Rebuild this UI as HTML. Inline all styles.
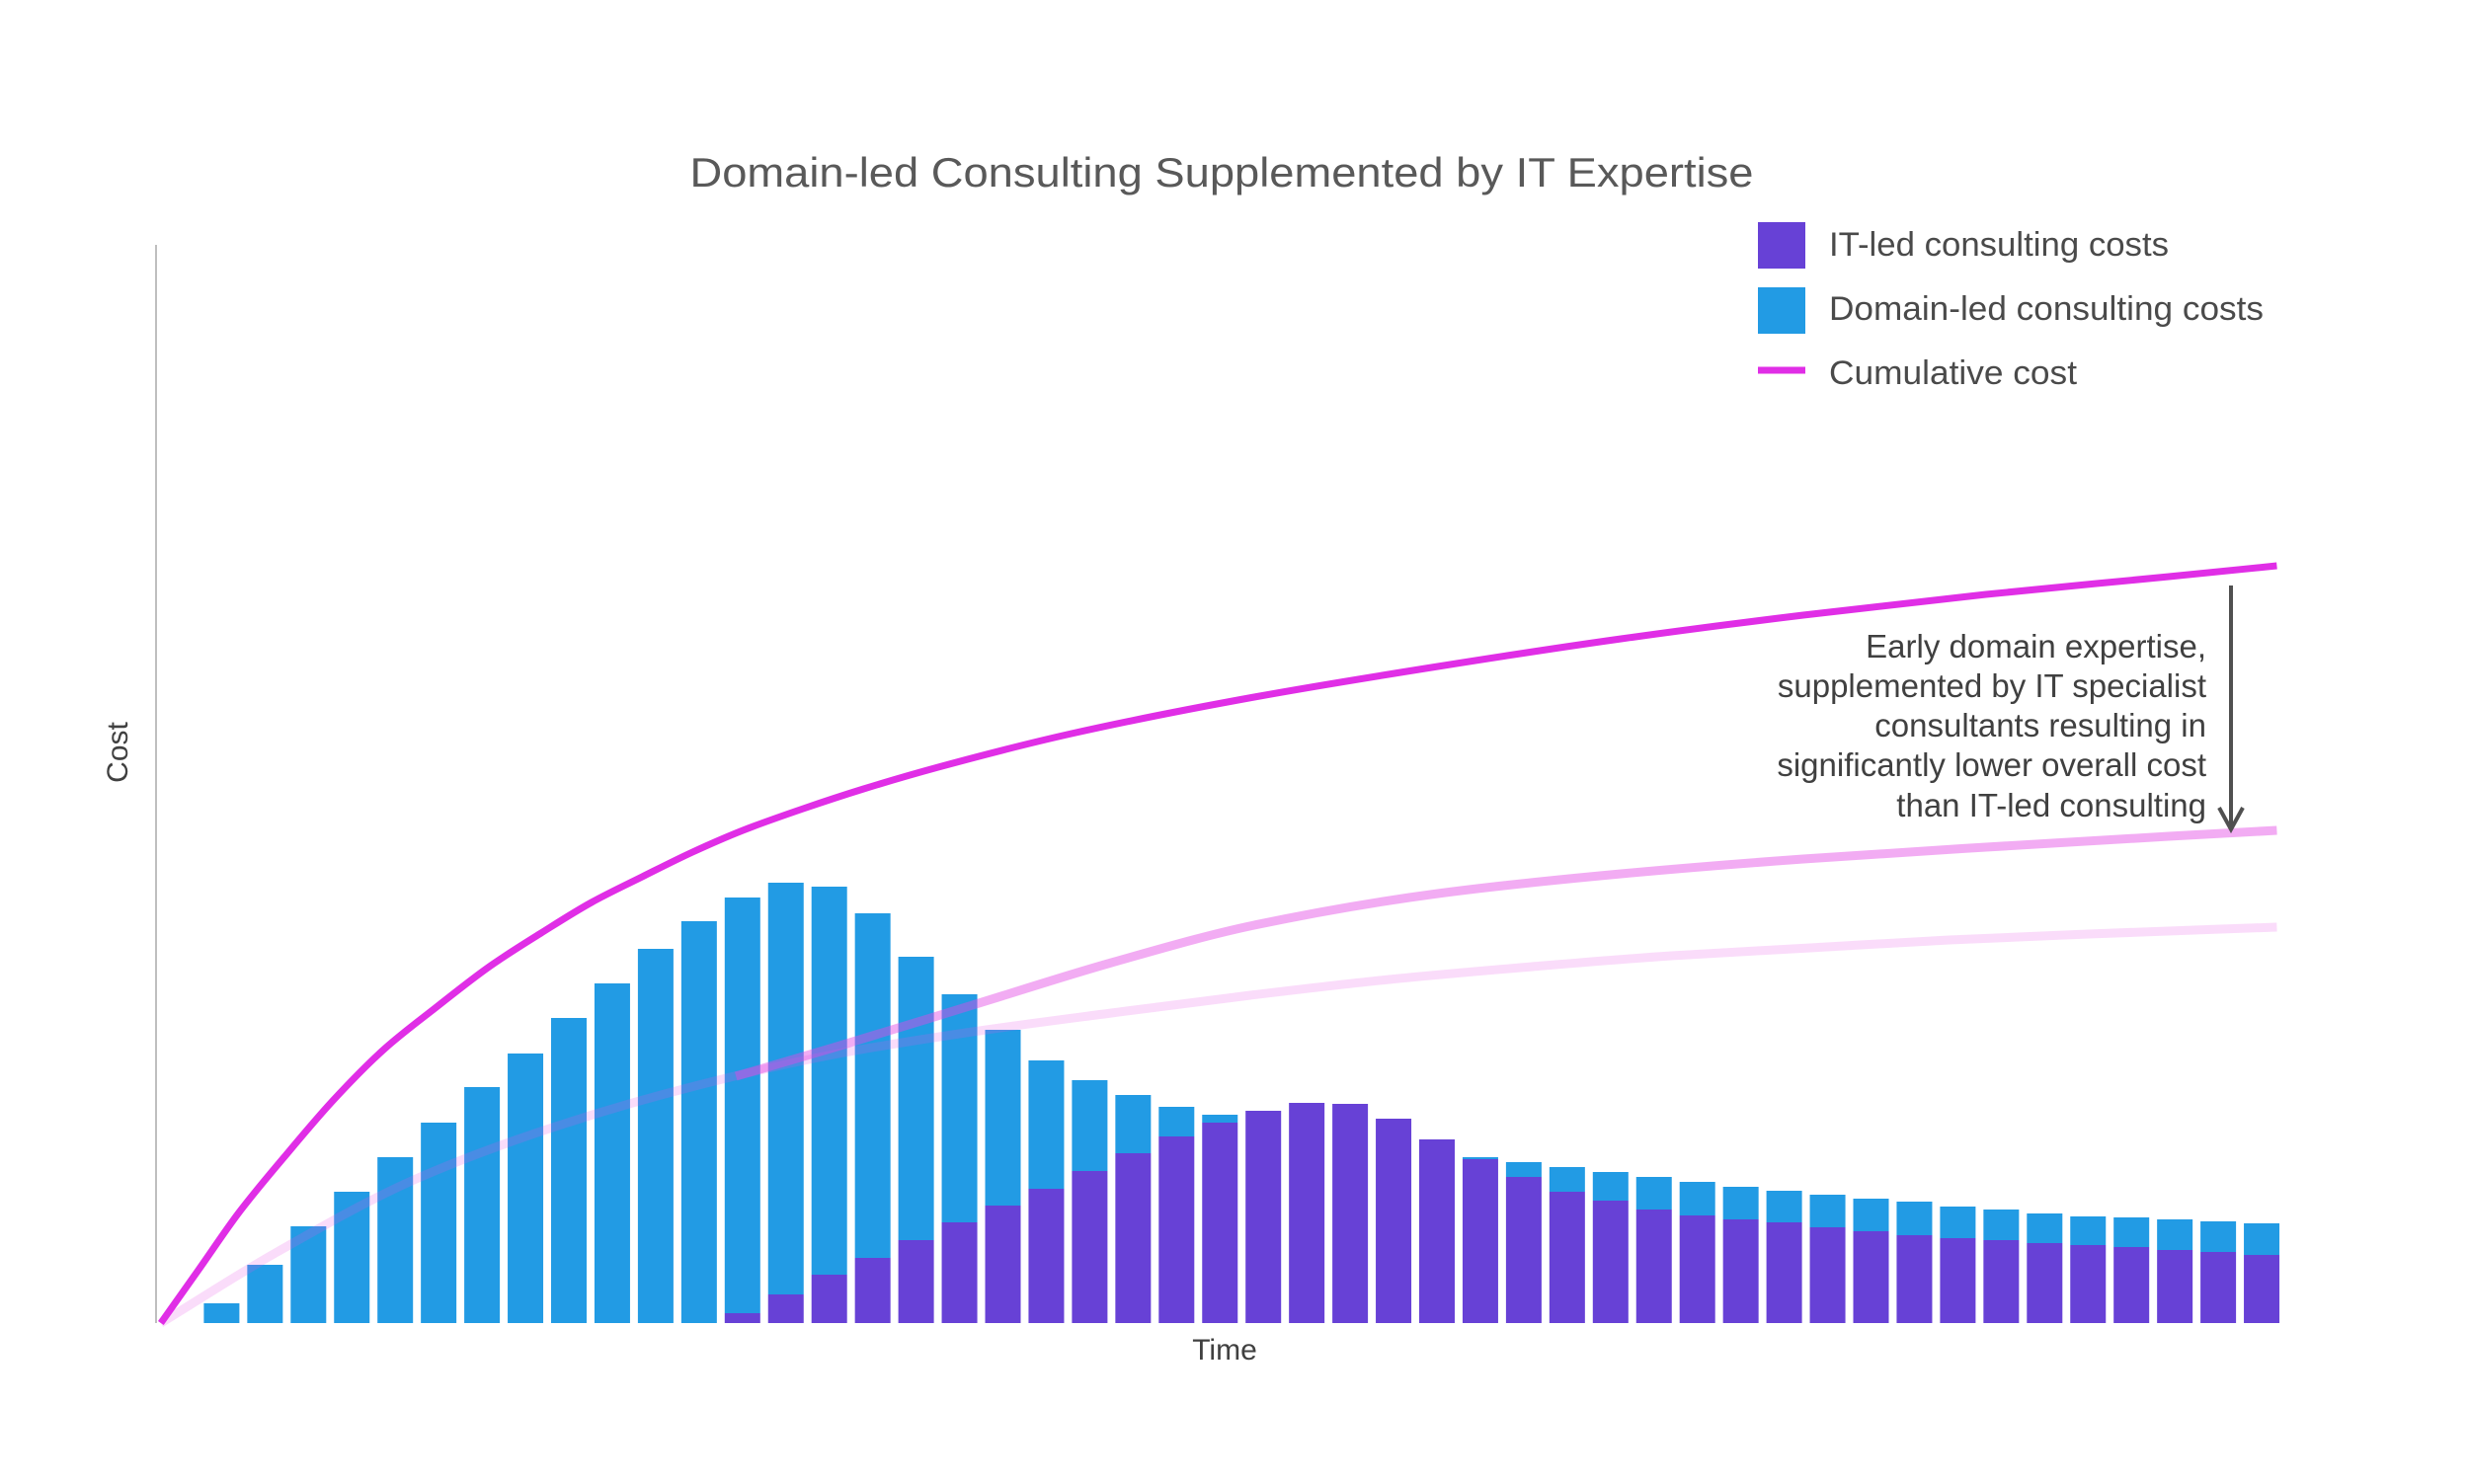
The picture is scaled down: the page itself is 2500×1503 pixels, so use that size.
<!DOCTYPE html>
<html><head><meta charset="utf-8"><style>
html,body{margin:0;padding:0;background:#fff;}
svg{display:block;font-family:"Liberation Sans",sans-serif;}
</style></head><body>
<svg id="chart" width="2500" height="1503" viewBox="0 0 2500 1503" xmlns="http://www.w3.org/2000/svg">
<rect width="2500" height="1503" fill="#fff"/>
<text x="1237" y="189" text-anchor="middle" font-size="42" fill="#595959" textLength="1077" lengthAdjust="spacingAndGlyphs">Domain-led Consulting Supplemented by IT Expertise</text>
<line x1="158" y1="248" x2="158" y2="1340" stroke="#bfbfbf" stroke-width="2"/>
<text x="0" y="0" transform="translate(129,762) rotate(-90)" text-anchor="middle" font-size="30" fill="#404040">Cost</text>
<text x="1240" y="1377" text-anchor="middle" font-size="30" fill="#404040">Time</text>
<g id="bars"></g>
<g id="lines"></g>
<g>
<rect x="1780" y="225" width="48" height="47" fill="#6741D6"/>
<text x="1852" y="259" font-size="34" fill="#4a4a4a" textLength="344" lengthAdjust="spacingAndGlyphs">IT-led consulting costs</text>
<rect x="1780" y="291" width="48" height="47" fill="#229BE4"/>
<text x="1852" y="324" font-size="34" fill="#4a4a4a" textLength="440" lengthAdjust="spacingAndGlyphs">Domain-led consulting costs</text>
<line x1="1780" y1="375" x2="1828" y2="375" stroke="#E02EE6" stroke-width="7"/>
<text x="1852" y="389" font-size="34" fill="#4a4a4a" textLength="251" lengthAdjust="spacingAndGlyphs">Cumulative cost</text>
</g>
<g>
<text text-anchor="end" font-size="33" fill="#404040"><tspan x="2234" y="666">Early domain expertise,</tspan><tspan x="2234" y="706">supplemented by IT specialist</tspan><tspan x="2234" y="746">consultants resulting in</tspan><tspan x="2234" y="786">significantly lower overall cost</tspan><tspan x="2234" y="827">than IT-led consulting</tspan></text>
<line x1="2259" y1="593" x2="2259" y2="836" stroke="#505050" stroke-width="4"/>
<polyline points="2247,818 2259,840 2271,818" fill="none" stroke="#505050" stroke-width="4"/>
</g>
</svg>
<script>
const itLed = [0,0,0,0,0,0,0,0,0,0,0,0,10,29,49,66,84,102,119,136,154,172,189,203,215,223,222,207,186,166,148,133,124,115,109,105,102,97,93,89,86,84,81,79,77,74,72,69];
const domainLed = [20,59,98,133,168,203,239,273,309,344,379,407,421,417,393,349,287,231,178,130,92,59,30,8,0,0,0,0,0,2,15,25,29,33,34,33,32,33,33,34,32,31,30,29,30,31,31,32];
const itLineT = [-0.40,0.47,1.40,2.44,3.60,4.76,5.92,7.20,8.36,9.52,10.69,11.85,13.01,14.40,15.79,17.51,20.58,24.79,29.02,33.24,37.44,41.65,45.86,48.35];
const itLineV = [0,54,112,168,227,278,319,362,395,426,452,477,499,521,541,563,597,634,665,693,717,738,756,767];
const domainLineT = [-0.40,2.28,5.48,8.69,11.9,15.1,18.3,21.5,24.7,27.9,31.2,34.4,37.6,40.8,44.0,48.35];
const domainLineV = [0,72,146,199,240,272,295,314,332,348,361,372,380,388,394,401];
const mixedLineT = [12.85,15.1,18.3,21.5,24.79,29.02,33.24,37.44,41.65,45.86,48.35];
const mixedLineV = [250,279,322,365,403,435,455,470,482,493,499];

const NS = "http://www.w3.org/2000/svg";
const baseY = 1340, topY = 243, yMax = 1097;
function xScale(t){ return 224.4 + (t - 1) * 43.95; }
function yScale(v){ return baseY - v * (baseY - topY) / yMax; }
const barW = 36;
const barsG = document.getElementById('bars');
itLed.forEach((v, i) => {
  const cx = xScale(i + 1);
  const r1 = document.createElementNS(NS, 'rect');
  r1.setAttribute('x', cx - barW / 2);
  r1.setAttribute('y', yScale(v));
  r1.setAttribute('width', barW);
  r1.setAttribute('height', baseY - yScale(v));
  r1.setAttribute('fill', '#6741D6');
  
  
  barsG.appendChild(r1);
  const d = domainLed[i];
  const r2 = document.createElementNS(NS, 'rect');
  r2.setAttribute('x', cx - barW / 2);
  r2.setAttribute('y', yScale(v + d));
  r2.setAttribute('width', barW);
  r2.setAttribute('height', yScale(v) - yScale(v + d));
  r2.setAttribute('fill', '#229BE4');
  
  
  barsG.appendChild(r2);
});
// monotone cubic (Fritsch-Carlson) in screen space
function smoothPath(ts, vs){
  const xs = ts.map(xScale), ys = vs.map(yScale), n = xs.length;
  const dx = [], s = [];
  for (let i = 0; i < n - 1; i++) { dx.push(xs[i+1]-xs[i]); s.push((ys[i+1]-ys[i])/dx[i]); }
  const m = new Array(n);
  m[0] = s[0]; m[n-1] = s[n-2];
  for (let i = 1; i < n - 1; i++) {
    if (s[i-1] * s[i] <= 0) m[i] = 0;
    else { const w1 = 2*dx[i]+dx[i-1], w2 = dx[i]+2*dx[i-1]; m[i] = (w1+w2)/(w1/s[i-1]+w2/s[i]); }
  }
  let d = 'M' + xs[0] + ',' + ys[0];
  for (let i = 0; i < n - 1; i++) {
    const h = dx[i] / 3;
    d += ' C' + (xs[i]+h) + ',' + (ys[i]+m[i]*h) + ' ' + (xs[i+1]-h) + ',' + (ys[i+1]-m[i+1]*h) + ' ' + xs[i+1] + ',' + ys[i+1];
  }
  return d;
}
const linesG = document.getElementById('lines');
const l1 = document.createElementNS(NS, 'path');
l1.setAttribute('d', smoothPath(domainLineT, domainLineV));
l1.setAttribute('fill', 'none');
l1.setAttribute('stroke', 'rgba(230,80,230,0.2)');
l1.setAttribute('stroke-width', '9');


linesG.appendChild(l1);
const l2 = document.createElementNS(NS, 'path');
l2.setAttribute('d', smoothPath(mixedLineT, mixedLineV));
l2.setAttribute('fill', 'none');
l2.setAttribute('stroke', 'rgba(226,70,228,0.45)');
l2.setAttribute('stroke-width', '9');


linesG.appendChild(l2);
const l3 = document.createElementNS(NS, 'path');
l3.setAttribute('d', smoothPath(itLineT, itLineV));
l3.setAttribute('fill', 'none');
l3.setAttribute('stroke', '#E02EE6');
l3.setAttribute('stroke-width', '7');


linesG.appendChild(l3);
</script>
</body></html>
